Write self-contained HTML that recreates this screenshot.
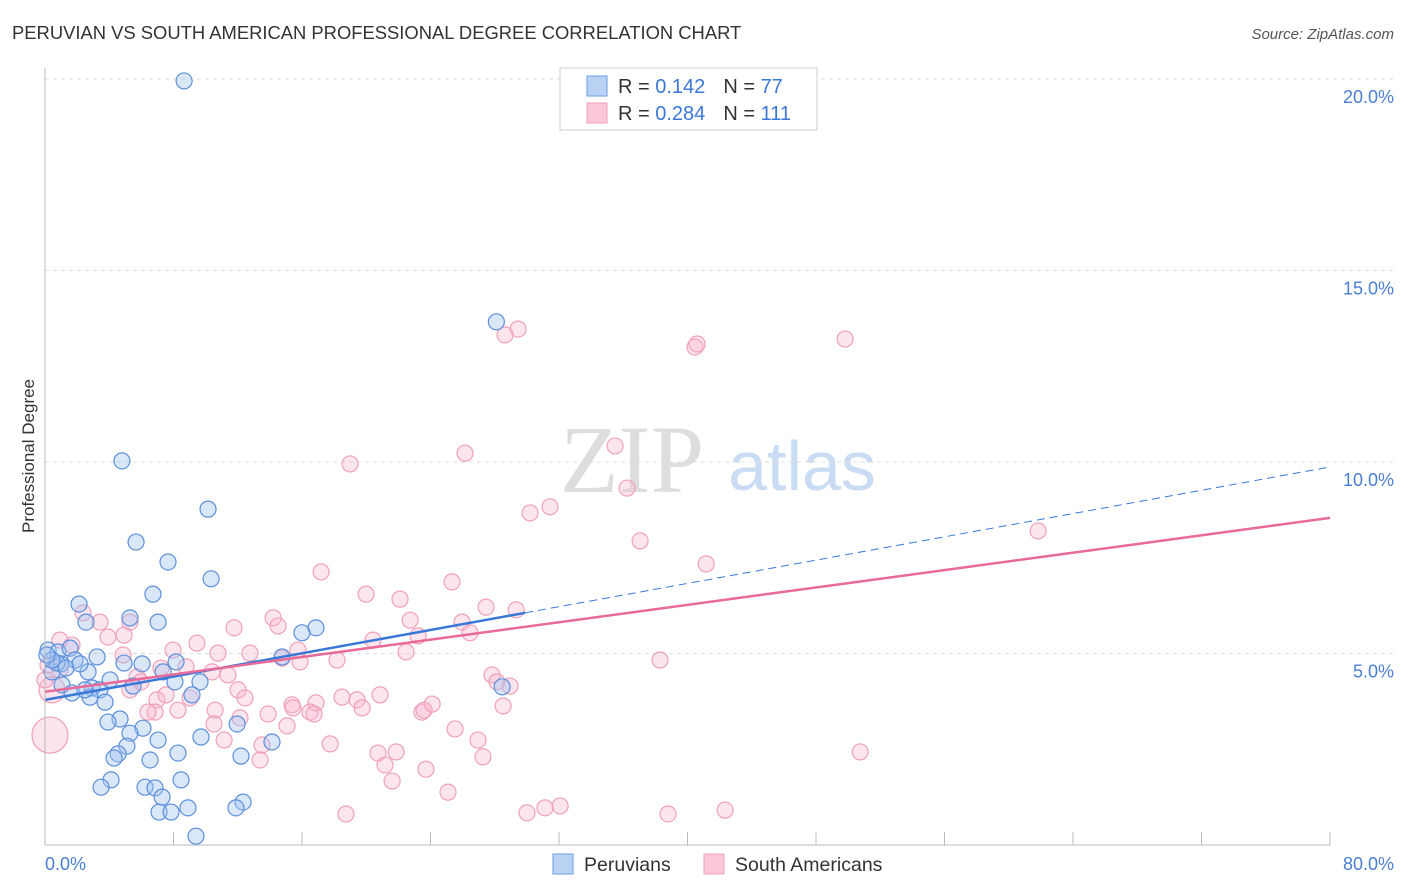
<!DOCTYPE html>
<html><head><meta charset="utf-8"><style>
body{margin:0;background:#fff;font-family:"Liberation Sans",sans-serif}
#c{position:relative;width:1406px;height:892px}
svg{position:absolute;left:0;top:0}
</style></head><body>
<div id="c">
<svg id="s" width="1406" height="892">
<text x="12" y="39" font-size="18.4" fill="#333">PERUVIAN VS SOUTH AMERICAN PROFESSIONAL DEGREE CORRELATION CHART</text>
<text x="1394" y="39" font-size="15" fill="#555" font-style="italic" text-anchor="end">Source: ZipAtlas.com</text>
<text x="34" y="456" font-size="17" fill="#333" text-anchor="middle" transform="rotate(-90 34 456)">Professional Degree</text>
<text x="632" y="492" font-size="96" fill="#ddd" font-family="Liberation Serif,serif" text-anchor="middle">ZIP</text>
<text x="802" y="490" font-size="70" fill="#c9dcf3" text-anchor="middle">atlas</text>
<g id="grid"></g><g id="pts"></g><g id="lines"></g>
<line x1="45" y1="68" x2="45" y2="845" stroke="#bbb"/>
<line x1="45" y1="845" x2="1330" y2="845" stroke="#bbb"/>
<text x="45" y="870" font-size="18" fill="#4a7fd4">0.0%</text>
<text x="1394" y="870" font-size="18" fill="#4a7fd4" text-anchor="end">80.0%</text>
<g>
<rect x="560" y="68" width="257" height="62" fill="#fff" stroke="#ccc"/>
<rect x="587" y="76" width="20" height="20" fill="#b9d2f4" stroke="#6a9ee0"/>
<rect x="587" y="103" width="20" height="20" fill="#fbc8d8" stroke="#f0a0b8"/>
<text x="618" y="93" font-size="20" fill="#333">R = <tspan fill="#3a78d8">0.142</tspan><tspan dx="18">N = </tspan><tspan fill="#3a78d8">77</tspan></text>
<text x="618" y="120" font-size="20" fill="#333">R = <tspan fill="#3a78d8">0.284</tspan><tspan dx="18">N = </tspan><tspan fill="#3a78d8">111</tspan></text>
</g>
<g>
<rect x="553" y="854" width="20" height="20" fill="#b9d2f4" stroke="#6a9ee0"/>
<text x="584" y="871" font-size="19.5" fill="#333">Peruvians</text>
<rect x="704" y="854" width="20" height="20" fill="#fbc8d8" stroke="#f0a0b8"/>
<text x="735" y="871" font-size="19.5" fill="#333">South Americans</text>
</g>
</svg>
</div>
<script>
const yTicks=[5,10,15,20];
const yTickLabels=["5.0%","10.0%","15.0%","20.0%"];
const blueX=[8.66,28.1,4.79,10.15,5.67,7.66,10.34,6.72,2.12,5.29,7.04,2.55,16.87,16.0,0.19,0.81,1.56,1.87,3.24,4.92,6.04,8.16,7.35,14.76,1.0,0.44,2.68,4.05,5.48,8.09,9.65,1.06,2.93,3.42,1.68,2.8,3.74,9.15,28.46,4.67,3.92,6.1,5.29,7.04,9.71,11.96,14.13,5.1,4.55,4.3,8.28,12.2,6.54,4.11,3.49,6.23,6.85,8.47,7.29,12.33,11.89,8.9,7.1,7.85,9.4,0.75,0.44,1.31,2.18,2.49,0.12];
const blueY=[19.95,13.66,10.03,8.77,7.91,7.39,6.95,6.55,6.29,5.93,5.82,5.82,5.67,5.54,5.09,5.04,5.14,4.83,4.91,4.75,4.73,4.78,4.52,4.91,4.73,4.52,4.52,4.31,4.15,4.26,4.26,4.18,4.10,4.05,3.97,3.86,3.73,3.92,4.13,3.29,3.21,3.05,2.92,2.74,2.82,3.16,2.69,2.58,2.38,2.27,2.40,2.32,2.22,1.70,1.51,1.51,1.49,1.70,1.25,1.12,0.97,0.97,0.86,0.86,0.23,4.75,4.83,4.62,4.73,4.05,4.96];
const pinkX=[29.45,28.64,40.47,40.6,49.81,35.49,26.15,18.99,36.24,31.44,30.2,37.05,61.83,41.16,17.19,25.34,19.99,22.1,27.46,29.33,14.2,22.73,25.97,11.77,14.51,26.46,20.42,23.23,2.37,3.42,3.92,4.92,5.29,0.93,1.68,7.97,9.46,10.77,12.76,15.75,22.48,38.29,18.18,15.88,14.76,8.78,7.22,4.86,5.73,11.39,10.4,27.83,28.14,28.95,5.29,5.98,12.02,10.59,6.97,9.03,7.53,12.45,20.86,18.49,19.43,19.74,16.87,15.38,16.5,15.44,16.75,12.14,13.89,23.47,24.1,23.6,28.52,6.85,6.41,8.28,10.52,15.07,25.53,26.96,17.75,13.51,11.15,20.73,21.86,50.75,27.27,13.39,21.17,23.72,21.61,25.09,18.74,30.01,31.13,32.07,38.79,42.34,0.31,0.44,0.93,0.19,0.0];
const pinkY=[13.47,13.32,13.0,13.08,13.21,10.42,10.23,9.95,9.32,8.83,8.67,7.94,8.2,7.34,7.13,6.87,6.55,6.42,6.21,6.14,5.93,5.87,5.82,5.67,5.72,5.54,5.35,5.46,6.06,5.82,5.43,5.48,5.82,5.35,5.22,5.09,5.27,5.01,5.01,5.09,5.04,4.83,4.83,4.78,4.88,4.65,4.62,4.96,4.39,4.44,4.52,4.44,4.26,4.15,4.05,4.26,4.05,3.52,3.79,3.84,3.92,3.84,3.92,3.86,3.79,3.58,3.71,3.66,3.47,3.58,3.42,3.32,3.42,3.47,3.68,3.52,3.63,3.47,3.47,3.52,3.16,3.11,3.03,2.74,2.64,2.61,2.74,2.40,2.43,2.43,2.30,2.22,2.09,1.98,1.67,1.38,0.81,0.84,0.97,1.02,0.81,0.91,2.87,4.05,4.57,4.70,4.31];
const pinkBig=[0,0,0,0,0,0,0,0,0,0,0,0,0,0,0,0,0,0,0,0,0,0,0,0,0,0,0,0,0,0,0,0,0,0,0,0,0,0,0,0,0,0,0,0,0,0,0,0,0,0,0,0,0,0,0,0,0,0,0,0,0,0,0,0,0,0,0,0,0,0,0,0,0,0,0,0,0,0,0,0,0,0,0,0,0,0,0,0,0,0,0,0,0,0,0,0,0,0,0,0,0,0,1,1,0,0,0];
const blueTrend=[3.79,9.87];
const pinkTrend=[4.0,8.54];
const blueSolidEnd=29.9;
const X=v=>45+v/80*1285, Y=v=>845-v*38.3;
const NS="http://www.w3.org/2000/svg";
function mk(tag,attrs,parent){const e=document.createElementNS(NS,tag);for(const k in attrs)e.setAttribute(k,attrs[k]);parent.appendChild(e);return e;}
const s=document.getElementById('s'),grid=document.getElementById('grid'),pts=document.getElementById('pts'),lines=document.getElementById('lines');
yTicks.forEach((t,i)=>{
  const l=mk('line',{x1:45,x2:1394,y1:Y(t),y2:Y(t),stroke:'#ddd','stroke-dasharray':'4,4'},grid);
  
  
  const tx=mk('text',{x:1394,y:Y(t)+24,'font-size':18,fill:'#4a7fd4','text-anchor':'end'},grid);
  tx.textContent=yTickLabels[i];
  
  
});
for(let i=0;i<=10;i++){
  const tk=mk('line',{x1:X(i*8),x2:X(i*8),y1:832,y2:845,stroke:'#bbb'},grid);
  
  
}
pinkX.forEach((x,i)=>{
  const c=mk('circle',{cx:X(x),cy:Y(pinkY[i]),r:pinkBig[i]?(i==102?18:13):8,fill:'rgba(248,180,205,0.35)',stroke:'#f0a0b8','stroke-width':1.2},pts);
  
  
});
blueX.forEach((x,i)=>{
  const c=mk('circle',{cx:X(x),cy:Y(blueY[i]),r:8,fill:'rgba(160,195,240,0.4)',stroke:'#5b8fdc','stroke-width':1.2},pts);
  
  
});
const bAt=x=>blueTrend[0]+(blueTrend[1]-blueTrend[0])*x/80;
let l1=mk('line',{x1:X(0),y1:Y(bAt(0)),x2:X(blueSolidEnd),y2:Y(bAt(blueSolidEnd)),stroke:'#3a78d8','stroke-width':2.5},lines);


let l2=mk('line',{x1:X(blueSolidEnd),y1:Y(bAt(blueSolidEnd)),x2:X(80),y2:Y(bAt(80)),stroke:'#3a78d8','stroke-width':1,'stroke-dasharray':'8,5'},lines);


let l3=mk('line',{x1:X(0),y1:Y(pinkTrend[0]),x2:X(80),y2:Y(pinkTrend[1]),stroke:'#e86a98','stroke-width':2.5},lines);


</script>
</body></html>
